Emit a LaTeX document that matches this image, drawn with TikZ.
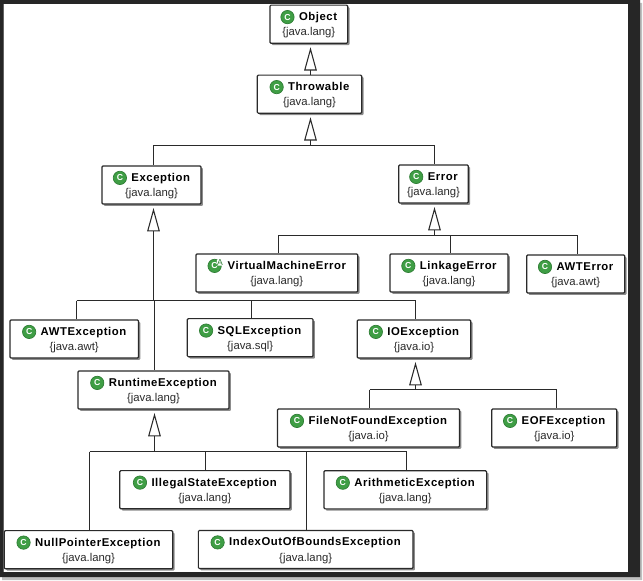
\documentclass[tikz,border=0pt]{standalone}
\usepackage{fontspec}
\usepackage{pgf, tikz}
\usetikzlibrary{arrows.meta,shadows}
\setmainfont{Liberation Sans}
\newfontfamily\namefont[LetterSpace=5]{Liberation Sans Bold}
\definecolor{icongreen}{HTML}{3F9E45}
\definecolor{iconedge}{HTML}{2E7D34}
\definecolor{lineink}{HTML}{2A2A2A}
\definecolor{frameink}{HTML}{262626}
\pgfdeclarelayer{edgelayer}
\pgfdeclarelayer{nodelayer}
\pgfsetlayers{edgelayer,nodelayer,main}
\tikzstyle{none}=[inner sep=0pt]
\tikzstyle{edge}=[draw=lineink, line width=0.8pt]
\tikzstyle{inherit}=[draw=lineink, line width=0.8pt, -{Triangle[open, length=17.5pt, width=9.4pt]}, shorten >=2.5pt]
\tikzstyle{classbox}=[rectangle, rounded corners=0.8pt, fill=white, draw=lineink, line width=0.9pt, align=center, inner sep=0pt, minimum height=28.6pt, font=\fontsize{8.5}{11.5}\selectfont, drop shadow={shadow xshift=1.4pt, shadow yshift=-1.4pt, fill=black, opacity=0.45}]
\tikzstyle{classicon}=[circle, fill=icongreen, draw=iconedge, line width=0.5pt, inner sep=0pt, minimum size=10pt, text=white, font=\fontsize{6.5}{6.5}\selectfont\namefont]
\tikzstyle{abstractmark}=[rectangle, fill=white, inner sep=0.2pt, minimum size=0pt, text=iconedge, font=\fontsize{6.5}{6.5}\selectfont]
\newcommand{\cicon}{\tikz[baseline={([yshift=-0.4pt]ic.base)}]\node [style=classicon] (ic) {C};}
\newcommand{\aicon}{\tikz[baseline={([yshift=-3pt]ia.base)}]\node [style=abstractmark] (ia) {A};}
\newcommand{\cname}[1]{\cicon\hspace{3.4pt}{\namefont #1}}
\newcommand{\aname}[1]{\cicon\hspace{-3.6pt}\aicon\hspace{3.4pt}{\namefont #1}}
\newcommand{\cpkg}[1]{{\color{lineink}\{#1\}}}
\begin{document}
\begin{tikzpicture}[x=0.75pt, y=-0.75pt]
			\useasboundingbox (0, 0) rectangle (643, 581);
			\begin{pgfonlayer}{nodelayer}
			\node [style=classbox, minimum width=58.3pt] (0) at (308.8, 24.2) {\cname{Object}\\\cpkg{java.lang}};
			\node [style=classbox, minimum width=78.3pt] (1) at (309.5, 94.2) {\cname{Throwable}\\\cpkg{java.lang}};
			\node [style=classbox, minimum width=74.3pt] (2) at (151.5, 185) {\cname{Exception}\\\cpkg{java.lang}};
			\node [style=classbox, minimum width=52.2pt] (3) at (433.5, 184) {\cname{Error}\\\cpkg{java.lang}};
			\node [style=classbox, minimum width=121.3pt] (4) at (276.8, 273) {\aname{VirtualMachineError}\\\cpkg{java.lang}};
			\node [style=classbox, minimum width=88.5pt] (5) at (449, 273) {\cname{LinkageError}\\\cpkg{java.lang}};
			\node [style=classbox, minimum width=73.5pt] (6) at (575.7, 274) {\cname{AWTError}\\\cpkg{java.awt}};
			\node [style=classbox, minimum width=96.4pt] (7) at (74.2, 339) {\cname{AWTException}\\\cpkg{java.awt}};
			\node [style=classbox, minimum width=94.3pt] (8) at (250.2, 337.7) {\cname{SQLException}\\\cpkg{java.sql}};
			\node [style=classbox, minimum width=85pt] (9) at (414, 339) {\cname{IOException}\\\cpkg{java.io}};
			\node [style=classbox, minimum width=113.3pt] (10) at (153.5, 390) {\cname{RuntimeException}\\\cpkg{java.lang}};
			\node [style=classbox, minimum width=136.5pt] (11) at (368.5, 428) {\cname{FileNotFoundException}\\\cpkg{java.io}};
			\node [style=classbox, minimum width=93.8pt] (12) at (554.2, 428) {\cname{EOFException}\\\cpkg{java.io}};
			\node [style=classbox, minimum width=127.7pt] (13) at (204.9, 489.7) {\cname{IllegalStateException}\\\cpkg{java.lang}};
			\node [style=classbox, minimum width=122pt] (14) at (405.3, 489.8) {\cname{ArithmeticException}\\\cpkg{java.lang}};
			\node [style=classbox, minimum width=126.3pt] (15) at (88.5, 549.7) {\cname{NullPointerException}\\\cpkg{java.lang}};
			\node [style=classbox, minimum width=161pt] (16) at (305.7, 549.5) {\cname{IndexOutOfBoundsException}\\\cpkg{java.lang}};
			\node [style=none] (20) at (153.5, 145.5) {};
			\node [style=none] (21) at (310.5, 145.5) {};
			\node [style=none] (22) at (434.5, 145.5) {};
			\node [style=none] (23) at (278.5, 235.5) {};
			\node [style=none] (24) at (434.5, 235.5) {};
			\node [style=none] (25) at (450.5, 235.5) {};
			\node [style=none] (26) at (577.5, 235.5) {};
			\node [style=none] (27) at (76.5, 300.5) {};
			\node [style=none] (28) at (153.5, 300.5) {};
			\node [style=none] (29) at (251.5, 300.5) {};
			\node [style=none] (30) at (415.5, 300.5) {};
			\node [style=none] (31) at (369.5, 389.5) {};
			\node [style=none] (32) at (415.5, 389.5) {};
			\node [style=none] (33) at (556.5, 389.5) {};
			\node [style=none] (34) at (89.5, 451.5) {};
			\node [style=none] (35) at (154.5, 451.5) {};
			\node [style=none] (36) at (205.5, 451.5) {};
			\node [style=none] (37) at (306.5, 451.5) {};
			\node [style=none] (38) at (406.5, 451.5) {};
			\node [style=none] (39) at (154.5, 300.5) {};
			\node [style=none] (40) at (310.5, 75) {};
			\end{pgfonlayer}
			\begin{pgfonlayer}{edgelayer}
			\draw [style=inherit] (40.center) to (40.center |- 0.south);
			\draw [style=inherit] (21.center) to (21.center |- 1.south);
			\draw [style=edge] (20.center) to (22.center);
			\draw [style=edge] (20.center) to (20.center |- 2.north);
			\draw [style=edge] (22.center) to (22.center |- 3.north);
			\draw [style=inherit] (24.center) to (24.center |- 3.south);
			\draw [style=edge] (23.center) to (26.center);
			\draw [style=edge] (23.center) to (23.center |- 4.north);
			\draw [style=edge] (25.center) to (25.center |- 5.north);
			\draw [style=edge] (26.center) to (26.center |- 6.north);
			\draw [style=inherit] (28.center) to (28.center |- 2.south);
			\draw [style=edge] (27.center) to (30.center);
			\draw [style=edge] (27.center) to (27.center |- 7.north);
			\draw [style=edge] (29.center) to (29.center |- 8.north);
			\draw [style=edge] (30.center) to (30.center |- 9.north);
			\draw [style=edge] (39.center) to (39.center |- 10.north);
			\draw [style=inherit] (32.center) to (32.center |- 9.south);
			\draw [style=edge] (31.center) to (33.center);
			\draw [style=edge] (31.center) to (31.center |- 11.north);
			\draw [style=edge] (33.center) to (33.center |- 12.north);
			\draw [style=inherit] (35.center) to (35.center |- 10.south);
			\draw [style=edge] (34.center) to (38.center);
			\draw [style=edge] (34.center) to (34.center |- 15.north);
			\draw [style=edge] (36.center) to (36.center |- 13.north);
			\draw [style=edge] (37.center) to (37.center |- 16.north);
			\draw [style=edge] (38.center) to (38.center |- 14.north);
			\end{pgfonlayer}
			\fill [black!25, even odd rule] (2, 3) rectangle (642, 580) (3.5, 4) rectangle (628, 572);
			\fill [frameink, even odd rule] (0, 0) rectangle (640, 577) (3.5, 4) rectangle (628, 572);
\end{tikzpicture}
\end{document}
